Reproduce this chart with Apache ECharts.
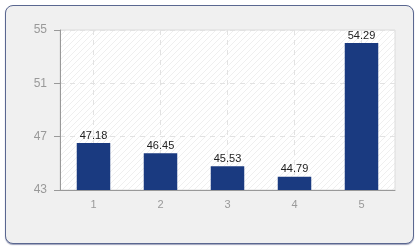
<!DOCTYPE html>
<html><head><meta charset="utf-8">
<script src="https://cdn.jsdelivr.net/npm/echarts@6/dist/echarts.min.js"></script>
<style>
html,body{margin:0;padding:0;background:#fff;}
#frame{position:absolute;left:5px;top:5px;width:407px;height:237px;border:1px solid #5a6790;border-radius:8px;background:#f0f0f0;box-shadow:0 1px 1px rgba(60,70,120,0.5);}
#c{position:absolute;left:0;top:0;width:420px;height:250px;}
</style></head>
<body><div id="frame"></div><div id="c"></div>
<script>
var categories = ['1','2','3','4','5'];
var values = [47.18, 46.45, 45.53, 44.79, 54.29];
var yTickLabels = ['43','47','51','55'];
var barAxisMin = 43.84, barAxisMax = 55.22;

var pc = document.createElement('canvas');
pc.width = 6; pc.height = 6;
var g = pc.getContext('2d');
g.fillStyle = '#ffffff'; g.fillRect(0,0,6,6);
g.strokeStyle = '#efefef'; g.lineWidth = 1;
g.beginPath(); g.moveTo(0,6); g.lineTo(6,0); g.stroke();

var chart = echarts.init(document.getElementById('c'), null, {renderer:'canvas'});
chart.setOption({
  animation:false,
  backgroundColor:'transparent',
  textStyle:{fontFamily:'Liberation Sans'},
  grid:{left:60,right:25,top:30,bottom:60,show:true,borderColor:'#dcdcdc',borderWidth:1,
        backgroundColor:{image:pc,repeat:'repeat'}},
  xAxis:{type:'category',data:categories,
    axisLine:{lineStyle:{color:'#999',width:1}},
    axisTick:{alignWithLabel:true,length:5,lineStyle:{color:'#999'}},
    axisLabel:{color:'#999',fontSize:11,margin:9},
    splitLine:{show:true,alignWithLabel:true,lineStyle:{color:'#e2e2e2',type:[5,5]}}},
  yAxis:[{type:'value',min:0,max:12,interval:4,
    axisLine:{show:true,lineStyle:{color:'#999'}},
    axisTick:{show:true,length:6,lineStyle:{color:'#999'}},
    axisLabel:{color:'#999',fontSize:12,margin:13,formatter:function(v){return yTickLabels[Math.round(v/4)];}},
    splitLine:{show:true,lineStyle:{color:'#e2e2e2',type:[5,5]}}},
   {type:'value',min:barAxisMin,max:barAxisMax,show:false,splitLine:{show:false}}],
  series:[{type:'bar',yAxisIndex:1,data:values,barWidth:'50%',
    itemStyle:{color:'#1a3a80'},
    label:{show:true,position:'top',distance:2,color:'#222',fontSize:11,
      formatter:function(p){return p.value.toFixed(2);}}}]
});
</script></body></html>
